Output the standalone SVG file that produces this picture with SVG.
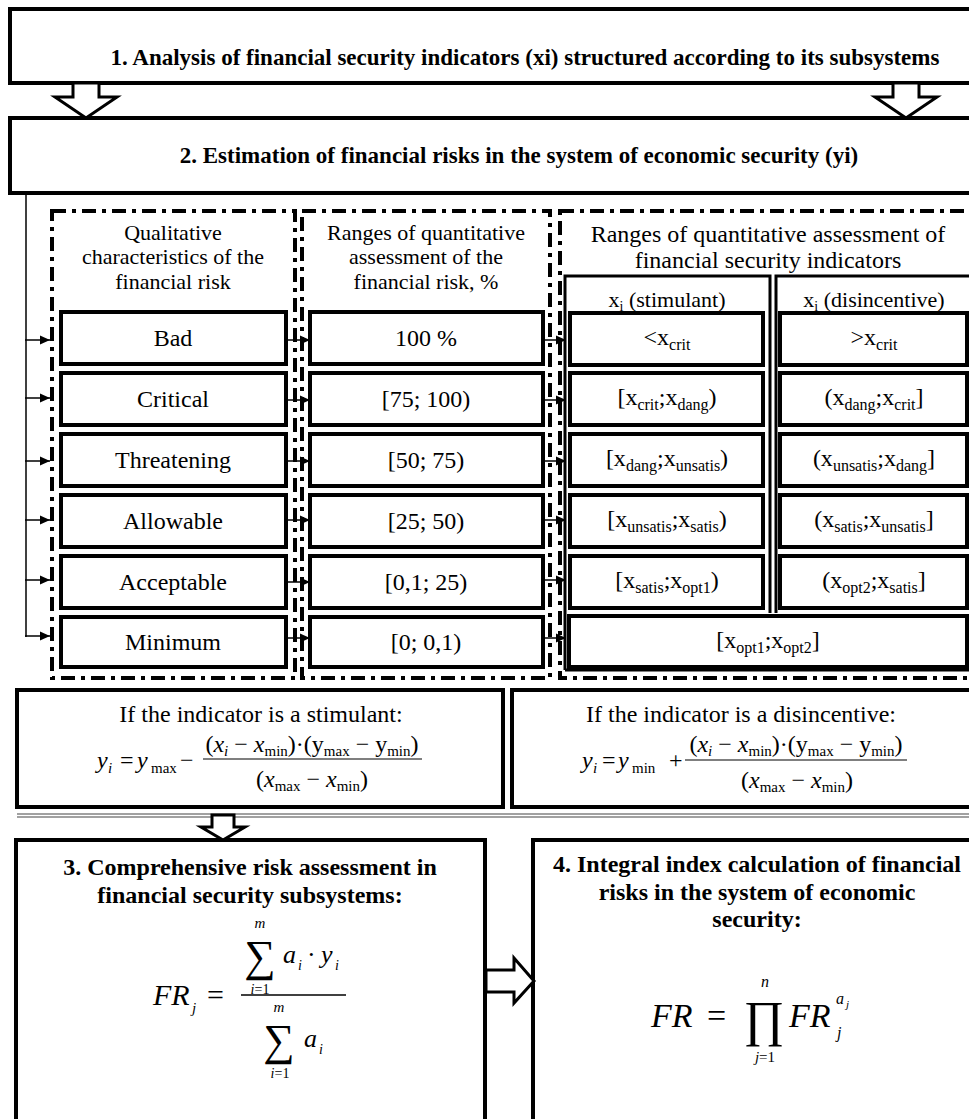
<svg xmlns="http://www.w3.org/2000/svg" width="969" height="1119" viewBox="0 0 969 1119">
<style>
.box{fill:#fff;stroke:#000;stroke-width:4}
.thin{fill:none;stroke:#000;stroke-width:3}
.dd{fill:none;stroke:#000;stroke-width:4;stroke-dasharray:14 6 4 6}
.t{font-family:"Liberation Serif","Times New Roman",serif;font-size:24px;text-anchor:middle;fill:#000}
.h{font-family:"Liberation Serif","Times New Roman",serif;font-size:22px;text-anchor:middle;fill:#000}
.b{font-family:"Liberation Serif","Times New Roman",serif;font-weight:bold;text-anchor:middle;fill:#000}
.m{font-family:"Liberation Serif","Times New Roman",serif;fill:#000}
.i{font-style:italic}
.con line{stroke:#000;stroke-width:1.5;fill:none}
.hol{fill:#fff;stroke:#000;stroke-width:3}
</style>
<defs>
<marker id="ah" markerUnits="userSpaceOnUse" markerWidth="10" markerHeight="10" refX="10" refY="5" orient="auto">
<path d="M0,0.5 L10,5 L0,9.5 z" fill="#000"/>
</marker>
</defs>
<rect width="969" height="1119" fill="#fff"/>

<g id="groups">
<rect class="dd" x="52" y="211" width="243" height="467"/>
<rect class="dd" x="302" y="211" width="248" height="467"/>
<rect class="dd" x="560" y="211" width="430" height="467"/>
</g>

<g id="n1"><rect class="box" x="10" y="9" width="1000" height="74"/>
<text class="b" x="525" y="65" font-size="23">1. Analysis of financial security indicators (xi) structured according to its subsystems</text></g>

<g id="n2"><rect class="box" x="10" y="118" width="1000" height="75"/>
<text class="b" x="519" y="163" font-size="23">2. Estimation of financial risks in the system of economic security (yi)</text></g>

<g id="hdr1"><text class="h" x="173" y="240">Qualitative</text><text class="h" x="173" y="264">characteristics of the</text><text class="h" x="173" y="289">financial risk</text></g>
<g id="hdr2"><text class="h" x="426" y="240">Ranges of quantitative</text><text class="h" x="426" y="264">assessment of the</text><text class="h" x="426" y="289">financial risk, %</text></g>
<g id="hdr3"><text class="t" x="768" y="242">Ranges of quantitative assessment of</text><text class="t" x="768" y="268">financial security indicators</text></g>

<g id="outer3">
<path class="thin" d="M565,670 L565,276 L770,276 L770,613"/>
<path class="thin" d="M776,613 L776,276 L990,276"/>
<path class="thin" d="M565,670 L990,670"/>
<text class="h" x="667" y="307">x<tspan font-size="14" dy="4">i</tspan><tspan dy="-4"> (stimulant)</tspan></text>
<text class="h" x="874" y="307">x<tspan font-size="14" dy="4">i</tspan><tspan dy="-4"> (disincentive)</tspan></text>
</g>

<g id="q1"><rect class="box" x="61" y="312" width="225" height="52"/><text class="t" x="173" y="346">Bad</text></g>
<g id="q2"><rect class="box" x="61" y="373" width="225" height="52"/><text class="t" x="173" y="407">Critical</text></g>
<g id="q3"><rect class="box" x="61" y="434" width="225" height="52"/><text class="t" x="173" y="468">Threatening</text></g>
<g id="q4"><rect class="box" x="61" y="495" width="225" height="52"/><text class="t" x="173" y="529">Allowable</text></g>
<g id="q5"><rect class="box" x="61" y="556" width="225" height="52"/><text class="t" x="173" y="590">Acceptable</text></g>
<g id="q6"><rect class="box" x="61" y="617" width="225" height="50"/><text class="t" x="173" y="650">Minimum</text></g>

<g id="r1"><rect class="box" x="310" y="312" width="233" height="52"/><text class="t" x="426" y="346">100 %</text></g>
<g id="r2"><rect class="box" x="310" y="373" width="233" height="52"/><text class="t" x="426" y="407">[75; 100)</text></g>
<g id="r3"><rect class="box" x="310" y="434" width="233" height="52"/><text class="t" x="426" y="468">[50; 75)</text></g>
<g id="r4"><rect class="box" x="310" y="495" width="233" height="52"/><text class="t" x="426" y="529">[25; 50)</text></g>
<g id="r5"><rect class="box" x="310" y="556" width="233" height="52"/><text class="t" x="426" y="590">[0,1; 25)</text></g>
<g id="r6"><rect class="box" x="310" y="617" width="233" height="50"/><text class="t" x="426" y="650">[0; 0,1)</text></g>

<g id="s1"><rect class="box" x="570" y="313" width="193" height="52"/><text class="t" x="667" y="345">&lt;x<tspan font-size="16" dy="5">crit</tspan></text></g>
<g id="s2"><rect class="box" x="570" y="373" width="193" height="52"/><text class="t" x="667" y="405">[x<tspan font-size="16" dy="5">crit</tspan><tspan dy="-5">;x</tspan><tspan font-size="16" dy="5">dang</tspan><tspan dy="-5">)</tspan></text></g>
<g id="s3"><rect class="box" x="570" y="434" width="193" height="52"/><text class="t" x="667" y="466">[x<tspan font-size="16" dy="5">dang</tspan><tspan dy="-5">;x</tspan><tspan font-size="16" dy="5">unsatis</tspan><tspan dy="-5">)</tspan></text></g>
<g id="s4"><rect class="box" x="570" y="495" width="193" height="52"/><text class="t" x="667" y="527">[x<tspan font-size="16" dy="5">unsatis</tspan><tspan dy="-5">;x</tspan><tspan font-size="16" dy="5">satis</tspan><tspan dy="-5">)</tspan></text></g>
<g id="s5"><rect class="box" x="570" y="556" width="193" height="52"/><text class="t" x="667" y="588">[x<tspan font-size="16" dy="5">satis</tspan><tspan dy="-5">;x</tspan><tspan font-size="16" dy="5">opt1</tspan><tspan dy="-5">)</tspan></text></g>

<g id="d1"><rect class="box" x="780" y="313" width="187" height="52"/><text class="t" x="874" y="345">&gt;x<tspan font-size="16" dy="5">crit</tspan></text></g>
<g id="d2"><rect class="box" x="780" y="373" width="187" height="52"/><text class="t" x="874" y="405">(x<tspan font-size="16" dy="5">dang</tspan><tspan dy="-5">;x</tspan><tspan font-size="16" dy="5">crit</tspan><tspan dy="-5">]</tspan></text></g>
<g id="d3"><rect class="box" x="780" y="434" width="187" height="52"/><text class="t" x="874" y="466">(x<tspan font-size="16" dy="5">unsatis</tspan><tspan dy="-5">;x</tspan><tspan font-size="16" dy="5">dang</tspan><tspan dy="-5">]</tspan></text></g>
<g id="d4"><rect class="box" x="780" y="495" width="187" height="52"/><text class="t" x="874" y="527">(x<tspan font-size="16" dy="5">satis</tspan><tspan dy="-5">;x</tspan><tspan font-size="16" dy="5">unsatis</tspan><tspan dy="-5">]</tspan></text></g>
<g id="d5"><rect class="box" x="780" y="556" width="187" height="52"/><text class="t" x="874" y="588">(x<tspan font-size="16" dy="5">opt2</tspan><tspan dy="-5">;x</tspan><tspan font-size="16" dy="5">satis</tspan><tspan dy="-5">]</tspan></text></g>

<g id="o6"><rect class="box" x="569" y="616" width="398" height="51"/><text class="t" x="768" y="648">[x<tspan font-size="16" dy="5">opt1</tspan><tspan dy="-5">;x</tspan><tspan font-size="16" dy="5">opt2</tspan><tspan dy="-5">]</tspan></text></g>

<g id="fs"><rect class="box" x="17" y="690" width="486" height="117"/>
<text class="t" x="261" y="722">If the indicator is a stimulant:</text>
<text class="m i" x="97" y="768" font-size="24">y</text><text class="m i" x="108" y="773" font-size="15">i</text>
<text class="m" x="120" y="768" font-size="24">=</text>
<text class="m i" x="137" y="768" font-size="24">y</text><text class="m" x="151" y="773" font-size="15">max</text>
<text class="m" x="180" y="768" font-size="24">−</text>
<line x1="203" y1="759" x2="422" y2="759" stroke="#000" stroke-width="1.2"/>
<text class="t" x="312" y="752">(<tspan font-style="italic">x</tspan><tspan font-size="15" font-style="italic" dy="4">i</tspan><tspan dy="-4"> − </tspan><tspan font-style="italic">x</tspan><tspan font-size="15" dy="4">min</tspan><tspan dy="-4">)·(y</tspan><tspan font-size="15" dy="4">max</tspan><tspan dy="-4"> − y</tspan><tspan font-size="15" dy="4">min</tspan><tspan dy="-4">)</tspan></text>
<text class="t" x="312" y="787">(<tspan font-style="italic">x</tspan><tspan font-size="15" dy="4">max</tspan><tspan dy="-4"> − </tspan><tspan font-style="italic">x</tspan><tspan font-size="15" dy="4">min</tspan><tspan dy="-4">)</tspan></text>
</g>

<g id="fd"><rect class="box" x="512" y="690" width="470" height="117"/>
<text class="t" x="741" y="722">If the indicator is a disincentive:</text>
<text class="m i" x="582" y="768" font-size="24">y</text><text class="m i" x="593" y="773" font-size="15">i</text>
<text class="m" x="602" y="768" font-size="24">=</text>
<text class="m i" x="618" y="768" font-size="24">y</text><text class="m" x="632" y="773" font-size="15">min</text>
<text class="m" x="669" y="768" font-size="24">+</text>
<line x1="685" y1="760" x2="907" y2="760" stroke="#000" stroke-width="1.2"/>
<text class="t" x="796" y="752">(<tspan font-style="italic">x</tspan><tspan font-size="15" font-style="italic" dy="4">i</tspan><tspan dy="-4"> − </tspan><tspan font-style="italic">x</tspan><tspan font-size="15" dy="4">min</tspan><tspan dy="-4">)·(y</tspan><tspan font-size="15" dy="4">max</tspan><tspan dy="-4"> − y</tspan><tspan font-size="15" dy="4">min</tspan><tspan dy="-4">)</tspan></text>
<text class="t" x="797" y="788">(<tspan font-style="italic">x</tspan><tspan font-size="15" dy="4">max</tspan><tspan dy="-4"> − </tspan><tspan font-style="italic">x</tspan><tspan font-size="15" dy="4">min</tspan><tspan dy="-4">)</tspan></text>
</g>

<line x1="17" y1="814" x2="969" y2="814" stroke="#444" stroke-width="1.2"/>
<line x1="17" y1="817" x2="969" y2="817" stroke="#444" stroke-width="1.2"/>

<g id="n3"><rect class="box" x="16" y="840" width="469" height="300"/>
<text class="b" x="250" y="875" font-size="24">3. Comprehensive risk assessment in</text>
<text class="b" x="250" y="903" font-size="24">financial security subsystems:</text>
<text class="m i" x="153" y="1005" font-size="30">FR</text><text class="m i" x="192" y="1013" font-size="15">j</text>
<text class="m" x="207" y="1005" font-size="30">=</text>
<line x1="241" y1="995" x2="346" y2="995" stroke="#000" stroke-width="1.3"/>
<text class="m i" x="260" y="928" font-size="15" text-anchor="middle">m</text>
<text class="m" x="260" y="971" font-size="44" text-anchor="middle">∑</text>
<text class="m" x="260" y="994" font-size="14" text-anchor="middle"><tspan font-style="italic">i</tspan>=1</text>
<text class="m i" x="283" y="963" font-size="26">a</text><text class="m i" x="298" y="970" font-size="14">i</text>
<text class="m" x="307" y="963" font-size="26">·</text>
<text class="m i" x="321" y="963" font-size="26">y</text><text class="m i" x="335" y="970" font-size="14">i</text>
<text class="m i" x="279" y="1012" font-size="15" text-anchor="middle">m</text>
<text class="m" x="279" y="1055" font-size="44" text-anchor="middle">∑</text>
<text class="m" x="280" y="1078" font-size="14" text-anchor="middle"><tspan font-style="italic">i</tspan>=1</text>
<text class="m i" x="304" y="1047" font-size="26">a</text><text class="m i" x="319" y="1054" font-size="14">i</text>
</g>

<g id="n4"><rect class="box" x="533" y="840" width="470" height="300"/>
<text class="b" x="757" y="872" font-size="24">4. Integral index calculation of financial</text>
<text class="b" x="757" y="900" font-size="24">risks in the system of economic</text>
<text class="b" x="757" y="927" font-size="24">security:</text>
<text class="m i" x="651" y="1027" font-size="34">FR</text>
<text class="m" x="707" y="1027" font-size="34">=</text>
<text class="m i" x="765" y="987" font-size="16" text-anchor="middle">n</text>
<text class="m" x="764" y="1036" font-size="50" text-anchor="middle">∏</text>
<text class="m" x="765" y="1062" font-size="15" text-anchor="middle"><tspan font-style="italic">j</tspan>=1</text>
<text class="m i" x="789" y="1027" font-size="34">FR</text>
<text class="m i" x="836" y="1004" font-size="16">a</text><text class="m i" x="846" y="1008" font-size="11">j</text>
<text class="m i" x="837" y="1038" font-size="16">j</text>
</g>

<g id="connectors" class="con">
<polygon class="hol" points="73,83 73,97 55,97 86,118 117,97 99,97 99,83"/>
<polygon class="hol" points="893,83 893,97 875,97 906,118 937,97 919,97 919,83"/>
<line x1="26" y1="193" x2="26" y2="637"/>
<line x1="25" y1="340" x2="50" y2="340" marker-end="url(#ah)"/>
<line x1="25" y1="398" x2="50" y2="398" marker-end="url(#ah)"/>
<line x1="25" y1="461" x2="50" y2="461" marker-end="url(#ah)"/>
<line x1="25" y1="520" x2="50" y2="520" marker-end="url(#ah)"/>
<line x1="25" y1="580" x2="50" y2="580" marker-end="url(#ah)"/>
<line x1="25" y1="636" x2="50" y2="636" marker-end="url(#ah)"/>
<line x1="288" y1="340" x2="310" y2="340" marker-end="url(#ah)"/>
<line x1="288" y1="400" x2="310" y2="400" marker-end="url(#ah)"/>
<line x1="288" y1="461" x2="310" y2="461" marker-end="url(#ah)"/>
<line x1="288" y1="520" x2="310" y2="520" marker-end="url(#ah)"/>
<line x1="288" y1="582" x2="310" y2="582" marker-end="url(#ah)"/>
<line x1="288" y1="638" x2="310" y2="638" marker-end="url(#ah)"/>
<line x1="545" y1="340" x2="566" y2="340" marker-end="url(#ah)"/>
<line x1="545" y1="400" x2="566" y2="400" marker-end="url(#ah)"/>
<line x1="545" y1="461" x2="566" y2="461" marker-end="url(#ah)"/>
<line x1="545" y1="520" x2="566" y2="520" marker-end="url(#ah)"/>
<line x1="545" y1="580" x2="566" y2="580" marker-end="url(#ah)"/>
<line x1="545" y1="638" x2="566" y2="638" marker-end="url(#ah)"/>
<polygon class="hol" points="212,815 212,827 201,827 223,840 245,827 234,827 234,815"/>
<polygon class="hol" points="486,970 514,970 514,958 534,981 514,1003 514,992 486,992"/>
</g>
</svg>
